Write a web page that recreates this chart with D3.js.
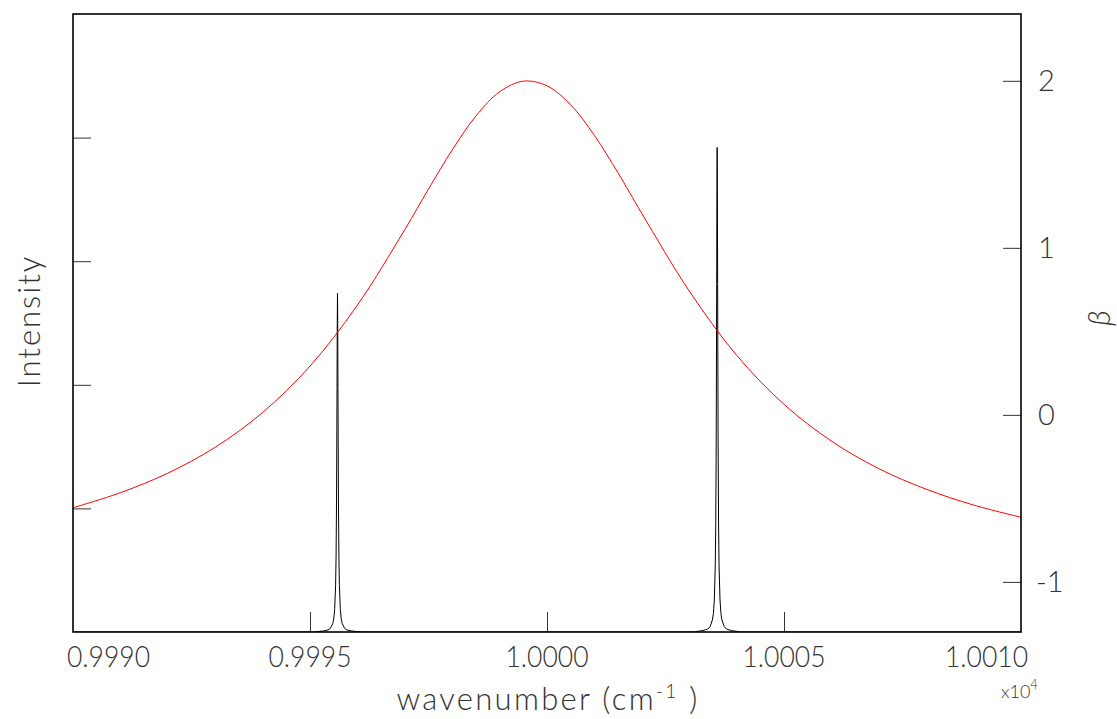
<!DOCTYPE html>
<html>
<head>
<meta charset="utf-8">
<script src="https://cdn.jsdelivr.net/npm/d3@7"></script>
<style>
  body { margin: 0; background: #fff; }
  text { font-family: Lato, Roboto, "DejaVu Sans", sans-serif; font-weight: 300; fill: #333; }
</style>
</head>
<body>
<svg id="chart" width="1117" height="719"></svg>
<script>
// beta curve (red)
const betaNu = [9990, 9991, 9992, 9993, 9994, 9995, 9996, 9997, 9997.5, 9998, 9998.5, 9999, 9999.5,
                10000, 10000.5, 10001, 10001.5, 10002, 10003, 10004, 10005, 10006, 10007, 10008, 10009, 10010];
const betaVal = [-0.556, -0.466, -0.349, -0.194, 0.014, 0.292, 0.657, 1.109, 1.352, 1.586, 1.789, 1.934, 1.998,
                 1.970, 1.856, 1.673, 1.448, 1.206, 0.742, 0.357, 0.063, -0.157, -0.322, -0.445, -0.540, -0.613];

// two narrow absorption lines (black)
const lineCenters = [9995.58, 10003.59];
const lineHeights = [2.74, 3.92];
// line shape around each centre: offset in cm-1, fraction of peak
const shapeOffset = [-0.3, -0.2, -0.15, -0.1, -0.08, -0.06, -0.04, -0.03, -0.02, -0.01, -0.005, 0,
                     0.005, 0.01, 0.02, 0.03, 0.04, 0.06, 0.08, 0.1, 0.15, 0.2, 0.3];
const shapeFrac = [0.003, 0.006, 0.011, 0.025, 0.038, 0.066, 0.138, 0.221, 0.39, 0.719, 0.911, 1,
                   0.911, 0.719, 0.39, 0.221, 0.138, 0.066, 0.038, 0.025, 0.011, 0.006, 0.003];

const xTicks = [9990, 9995, 10000, 10005, 10010];
const xTickLabels = ["0.9990", "0.9995", "1.0000", "1.0005", "1.0010"];
const intTicks = [1, 2, 3, 4];
const betaTicks = [-1, 0, 1, 2];

const svg = d3.select("#chart");
const L = 73, R = 1021, T = 14, B = 632;

const x = d3.scaleLinear().domain([9990, 10010]).range([L, R]);
const yInt = d3.scaleLinear().domain([0, 5]).range([B, T]);
const yBeta = d3.scaleLinear().domain([-1.3, 2.4]).range([B, T]);

// build the intensity trace
let spec = [{nu: 9990, v: 0}];
lineCenters.forEach((c, i) => {
    spec.push({nu: c - 0.5, v: 0});
    shapeOffset.forEach((o, j) => spec.push({nu: c + o, v: lineHeights[i] * shapeFrac[j]}));
    spec.push({nu: c + 0.5, v: 0});
});
spec.push({nu: 10010, v: 0});

svg.append("clipPath").attr("id", "plot")
    .append("rect").attr("x", L).attr("y", T).attr("width", R - L).attr("height", B - T);

const g = svg.append("g").attr("clip-path", "url(#plot)");

g.append("path")
    .datum(spec)
    .attr("fill", "none")
    .attr("stroke", "#000")
    .attr("stroke-width", 1)
    .attr("d", d3.line().x(d => x(d.nu)).y(d => yInt(d.v)));

g.append("path")
    .datum(betaNu.map((n, i) => ({nu: n, v: betaVal[i]})))
    .attr("fill", "none")
    .attr("stroke", "#ff0000")
    .attr("stroke-width", 1)
    .attr("d", d3.line().curve(d3.curveCatmullRom).x(d => x(d.nu)).y(d => yBeta(d.v)));

// axes (ticks pointing inward, end ticks sit on the frame)
svg.append("g").attr("transform", `translate(0,${B})`)
    .call(d3.axisTop(x).tickValues(xTicks.slice(1, -1)).tickSize(20).tickFormat(""))
    .call(a => a.select(".domain").remove());

svg.append("g").attr("transform", `translate(${L},0)`)
    .call(d3.axisRight(yInt).tickValues(intTicks).tickSize(18).tickFormat(""))
    .call(a => a.select(".domain").remove());

svg.append("g").attr("transform", `translate(${R},0)`)
    .call(d3.axisLeft(yBeta).tickValues(betaTicks).tickSize(18).tickFormat(""))
    .call(a => a.select(".domain").remove());

svg.selectAll(".tick line").attr("stroke", "#333").attr("stroke-width", 1);

svg.append("rect")
    .attr("x", L).attr("y", T).attr("width", R - L).attr("height", B - T)
    .attr("fill", "none").attr("stroke", "#000").attr("stroke-width", 1.6);

// tick labels; the end labels are pulled inside like the original
const last = xTicks.length - 1;
svg.selectAll(".xlab").data(xTicks).enter().append("text")
    .attr("x", (d, i) => i === 0 ? x(d) - 6 : i === last ? x(d) + 7 : x(d))
    .attr("y", 667)
    .attr("text-anchor", (d, i) => i === 0 ? "start" : i === last ? "end" : "middle")
    .attr("font-size", 29)
    .attr("textLength", 83).attr("lengthAdjust", "spacingAndGlyphs")
    .text((d, i) => xTickLabels[i]);

svg.selectAll(".blab").data(betaTicks).enter().append("text")
    .attr("x", d => d < 0 ? 1036 : 1038).attr("y", d => yBeta(d) + 10)
    .attr("font-size", 29)
    .text(d => d < 0 ? "-" + Math.abs(d) : d);

// axis titles
const xt = svg.append("text").attr("x", 548).attr("y", 710)
    .attr("text-anchor", "middle").attr("font-size", 31)
    .attr("letter-spacing", 2.3);
xt.append("tspan").text("wavenumber (cm");
xt.append("tspan").attr("font-size", 19).attr("dy", -12).text("-1");
xt.append("tspan").attr("dy", 12).text(" )");

const sc = svg.append("text").attr("x", 1001).attr("y", 698).attr("font-size", 18);
sc.append("tspan").text("x10");
sc.append("tspan").attr("font-size", 13).attr("dy", -9).text("4");

svg.append("text")
    .attr("transform", "translate(40,321) rotate(-90)")
    .attr("text-anchor", "middle").attr("font-size", 31)
    .attr("letter-spacing", 2)
    .text("Intensity");

svg.append("text")
    .attr("transform", "translate(1110,318) rotate(-90)")
    .attr("text-anchor", "middle").attr("font-size", 31)
    .attr("font-style", "italic")
    .text("β");
</script>
</body>
</html>
